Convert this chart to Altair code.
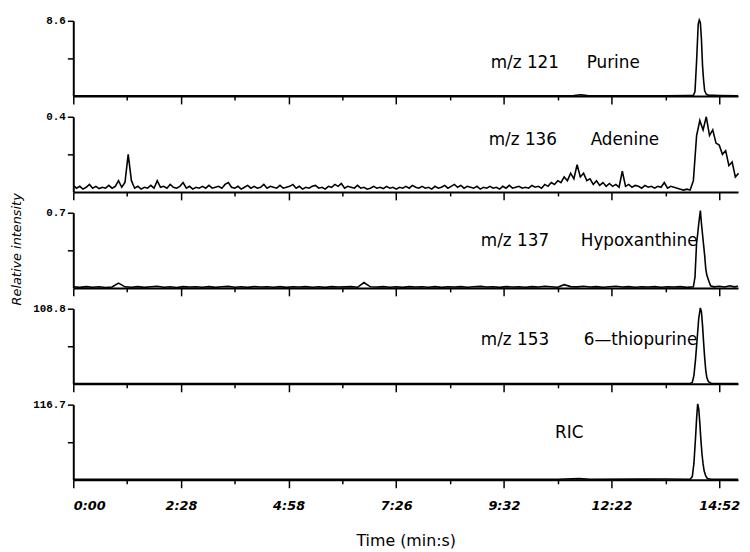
import altair as alt
import pandas as pd

# ---------------- data ----------------
SCAN_END = 1235
TICK_SCANS = list(range(0, 1201, 100))
TIME_LABELS = ["0:00", "2:28", "4:58", "7:26", "9:32", "12:22", "14:52"]

Y_MAX = [8.6, 0.4, 0.7, 108.8, 116.7]
MZ = ["m/z 121", "m/z 136", "m/z 137", "m/z 153", ""]
COMPOUND = ["Purine", "Adenine", "Hypoxanthine", "6\u2014thiopurine", "RIC"]

PURINE_SCAN = [0, 100, 200, 300, 400, 500, 600, 700, 800, 900, 930, 943, 955, 1000, 1100,
               1140, 1152, 1155, 1158, 1161, 1163, 1165, 1167, 1169, 1171, 1173, 1176, 1180,
               1190, 1200, 1235]
PURINE_VAL = [0.02, 0.02, 0.03, 0.02, 0.02, 0.03, 0.02, 0.03, 0.02, 0.03, 0.06, 0.15, 0.04, 0.03, 0.03,
              0.04, 0.05, 0.5, 4.0, 8.2, 8.7, 8.4, 6.5, 3.5, 1.8, 0.6, 0.2, 0.08,
              0.08, 0.06, 0.03]

ADENINE_STEP = 6
ADENINE_VAL = [
    0.035, 0.02, 0.03, 0.015, 0.025, 0.04, 0.02, 0.03, 0.018, 0.025,
    0.02, 0.035, 0.02, 0.03, 0.06, 0.025, 0.05, 0.2, 0.06, 0.02,
    0.03, 0.015, 0.025, 0.02, 0.035, 0.02, 0.06, 0.025, 0.03, 0.02,
    0.04, 0.025, 0.02, 0.03, 0.05, 0.02, 0.03, 0.015, 0.025, 0.02,
    0.03, 0.02, 0.035, 0.02, 0.025, 0.03, 0.02, 0.04, 0.05, 0.025,
    0.02, 0.03, 0.015, 0.025, 0.035, 0.02, 0.03, 0.02, 0.025, 0.04,
    0.02, 0.03, 0.025, 0.02, 0.035, 0.02, 0.025, 0.03, 0.04, 0.02,
    0.03, 0.015, 0.025, 0.02, 0.03, 0.035, 0.02, 0.025, 0.015, 0.03,
    0.025, 0.04, 0.03, 0.045, 0.02, 0.03, 0.025, 0.02, 0.035, 0.02,
    0.025, 0.015, 0.02, 0.03, 0.02, 0.025, 0.018, 0.03, 0.02, 0.025,
    0.015, 0.025, 0.02, 0.03, 0.02, 0.035, 0.025, 0.02, 0.03, 0.02,
    0.025, 0.015, 0.03, 0.02, 0.025, 0.035, 0.02, 0.03, 0.04, 0.025,
    0.035, 0.02, 0.03, 0.025, 0.02, 0.03, 0.015, 0.025, 0.02, 0.03,
    0.02, 0.025, 0.015, 0.03, 0.02, 0.035, 0.02, 0.025, 0.03, 0.02,
    0.025, 0.02, 0.035, 0.025, 0.03, 0.02, 0.04, 0.03, 0.05, 0.04,
    0.06, 0.05, 0.08, 0.06, 0.1, 0.07, 0.145, 0.08, 0.1, 0.06,
    0.07, 0.04, 0.06, 0.035, 0.05, 0.03, 0.045, 0.03, 0.04, 0.025,
    0.11, 0.03, 0.04, 0.025, 0.035, 0.03, 0.02, 0.035, 0.025, 0.03,
    0.02, 0.03, 0.025, 0.05, 0.02, 0.03, 0.025, 0.02, 0.015, 0.01,
    0.015, 0.01, 0.06, 0.3, 0.38, 0.33, 0.4, 0.3, 0.33, 0.26,
    0.25, 0.2, 0.22, 0.14, 0.16, 0.08, 0.1,
]

HYPO_STEP = 12
HYPO_BASE_VAL = [
    0.01, 0.005, 0.012, 0.006, 0.01, 0.004, 0.008, 0.045, 0.01, 0.006,
    0.012, 0.005, 0.01, 0.015, 0.006, 0.01, 0.004, 0.012, 0.008, 0.01,
    0.006, 0.012, 0.005, 0.01, 0.014, 0.006, 0.01, 0.005, 0.012, 0.008,
    0.01, 0.006, 0.012, 0.005, 0.01, 0.008, 0.012, 0.006, 0.01, 0.005,
    0.012, 0.008, 0.01, 0.012, 0.006, 0.05, 0.01, 0.008, 0.012, 0.006,
    0.01, 0.005, 0.012, 0.008, 0.01, 0.006, 0.012, 0.005, 0.01, 0.008,
    0.012, 0.006, 0.01, 0.014, 0.008, 0.01, 0.005, 0.012, 0.008, 0.01,
    0.006, 0.012, 0.008, 0.015, 0.01, 0.006, 0.03, 0.012, 0.01, 0.015,
    0.008, 0.012, 0.006, 0.01, 0.015, 0.008, 0.012, 0.006, 0.01, 0.008,
    0.012, 0.006, 0.01, 0.008, 0.012, 0.005,
]
HYPO_PEAK_SCAN = [1152, 1155, 1158, 1160, 1162, 1164, 1165, 1167, 1169, 1171, 1173, 1175,
                  1177, 1179, 1181, 1184, 1190, 1200, 1210, 1220, 1228, 1235]
HYPO_PEAK_VAL = [0.01, 0.1, 0.42, 0.5, 0.6, 0.68, 0.72, 0.6, 0.5, 0.4, 0.3, 0.18,
                 0.12, 0.09, 0.06, 0.02, 0.01, 0.015, 0.008, 0.02, 0.01, 0.015]

THIO_SCAN = [0, 200, 400, 600, 800, 1000, 1100, 1146, 1150, 1153, 1156, 1159, 1162, 1165,
             1167, 1169, 1171, 1173, 1175, 1177, 1180, 1185, 1200, 1235]
THIO_VAL = [0.3, 0.3, 0.3, 0.4, 0.3, 0.4, 0.4, 0.5, 2, 12, 35, 65, 95, 110,
            104, 85, 60, 38, 20, 9, 3, 1, 0.5, 0.4]

RIC_SCAN = [0, 100, 200, 300, 400, 500, 600, 700, 800, 900, 940, 960, 1050, 1100, 1146,
            1150, 1153, 1156, 1158, 1160, 1162, 1164, 1166, 1168, 1170, 1172, 1175, 1178,
            1185, 1200, 1235]
RIC_VAL = [0.8, 0.9, 0.8, 0.9, 0.8, 0.9, 0.9, 1.0, 0.9, 1.0, 1.8, 1.0, 1.1, 1.2, 1.0,
           5, 25, 65, 95, 118, 110, 88, 62, 40, 25, 14, 6, 2,
           1, 0.9, 0.8]

# ---------------- series tables ----------------
series = [
    (PURINE_SCAN, PURINE_VAL),
    ([i * ADENINE_STEP for i in range(len(ADENINE_VAL))], ADENINE_VAL),
    ([i * HYPO_STEP for i in range(len(HYPO_BASE_VAL))] + HYPO_PEAK_SCAN, HYPO_BASE_VAL + HYPO_PEAK_VAL),
    (THIO_SCAN, THIO_VAL),
    (RIC_SCAN, RIC_VAL),
]

# ---------------- styling ----------------
W, H = 672, 76
MZ_X = [422, 420, 412, 412, 0]
CMP_X = [519, 523, 513, 516, 487]
TXT_Y = [43, 24, 29, 32, 29]
TEXT_FONT = "DejaVu Sans"

label_arr = "[" + ",".join("'" + t + "'" for t in TIME_LABELS) + "]"
x_label_expr = "datum.value % 200 === 0 ? " + label_arr + "[datum.value / 200] : ''"
x_tick_size = {"condition": {"test": "datum.value % 200 === 0", "value": 8}, "value": 4}


def text_layer(s, x, y, **kw):
    return alt.Chart(pd.DataFrame({"t": [s]})).mark_text(
        align="left", baseline="middle", font=TEXT_FONT, fontSize=17, color="black", **kw
    ).encode(x=alt.value(x), y=alt.value(y), text="t:N")


panels = []
for i, (sc, vl) in enumerate(series):
    bottom = i == len(series) - 1
    ymax = Y_MAX[i]
    df = pd.DataFrame({"scan": sc, "val": vl})
    if bottom:
        xaxis = alt.Axis(values=TICK_SCANS, tickSize=x_tick_size, labelExpr=x_label_expr,
                         labelFont="DejaVu Sans", labelFontStyle="italic", labelFontSize=13,
                         labelFontWeight="bold", labelPadding=12, title="Time (min:s)",
                         titleFont=TEXT_FONT, titleFontSize=16, titleFontWeight="normal",
                         titlePadding=20)
    else:
        xaxis = alt.Axis(values=TICK_SCANS, tickSize=x_tick_size, labels=False, title="")
    yaxis = alt.Axis(values=[ymax / 2, ymax], tickSize=6, labelPadding=2,
                     labelExpr="datum.value > " + str(ymax * 0.75) + " ? format(datum.value, '.1f') : ''",
                     labelFont="Liberation Mono", labelFontWeight="bold", labelFontSize=11,
                     title="")
    line = alt.Chart(df).mark_line(color="black", strokeWidth=1.6).encode(
        x=alt.X("scan:Q", scale=alt.Scale(domain=[0, SCAN_END], nice=False, zero=False), axis=xaxis),
        y=alt.Y("val:Q", scale=alt.Scale(domain=[0, ymax], nice=False), axis=yaxis),
    )
    layers = [line]
    if MZ[i]:
        layers.append(text_layer(MZ[i], MZ_X[i], TXT_Y[i]))
    layers.append(text_layer(COMPOUND[i], CMP_X[i], TXT_Y[i]))
    if i == 2:
        layers.append(
            alt.Chart(pd.DataFrame({"t": ["Relative intensity"]})).mark_text(
                align="center", baseline="middle", font=TEXT_FONT, fontSize=13,
                fontStyle="italic", angle=270, color="black"
            ).encode(x=alt.value(-57), y=alt.value(37), text="t:N")
        )
    panels.append(alt.layer(*layers).properties(width=W, height=H))

chart = alt.vconcat(*panels, spacing=21, bounds="flush").properties(
    padding={"left": 3, "top": 4, "right": 0, "bottom": 0}
).configure_view(stroke=None).configure_axis(
    grid=False, domainColor="black", domainWidth=2, tickColor="black", tickWidth=1.5,
    labelColor="black", titleColor="black"
)

chart.save("out.html", embed_options={"renderer": "svg", "actions": False})
